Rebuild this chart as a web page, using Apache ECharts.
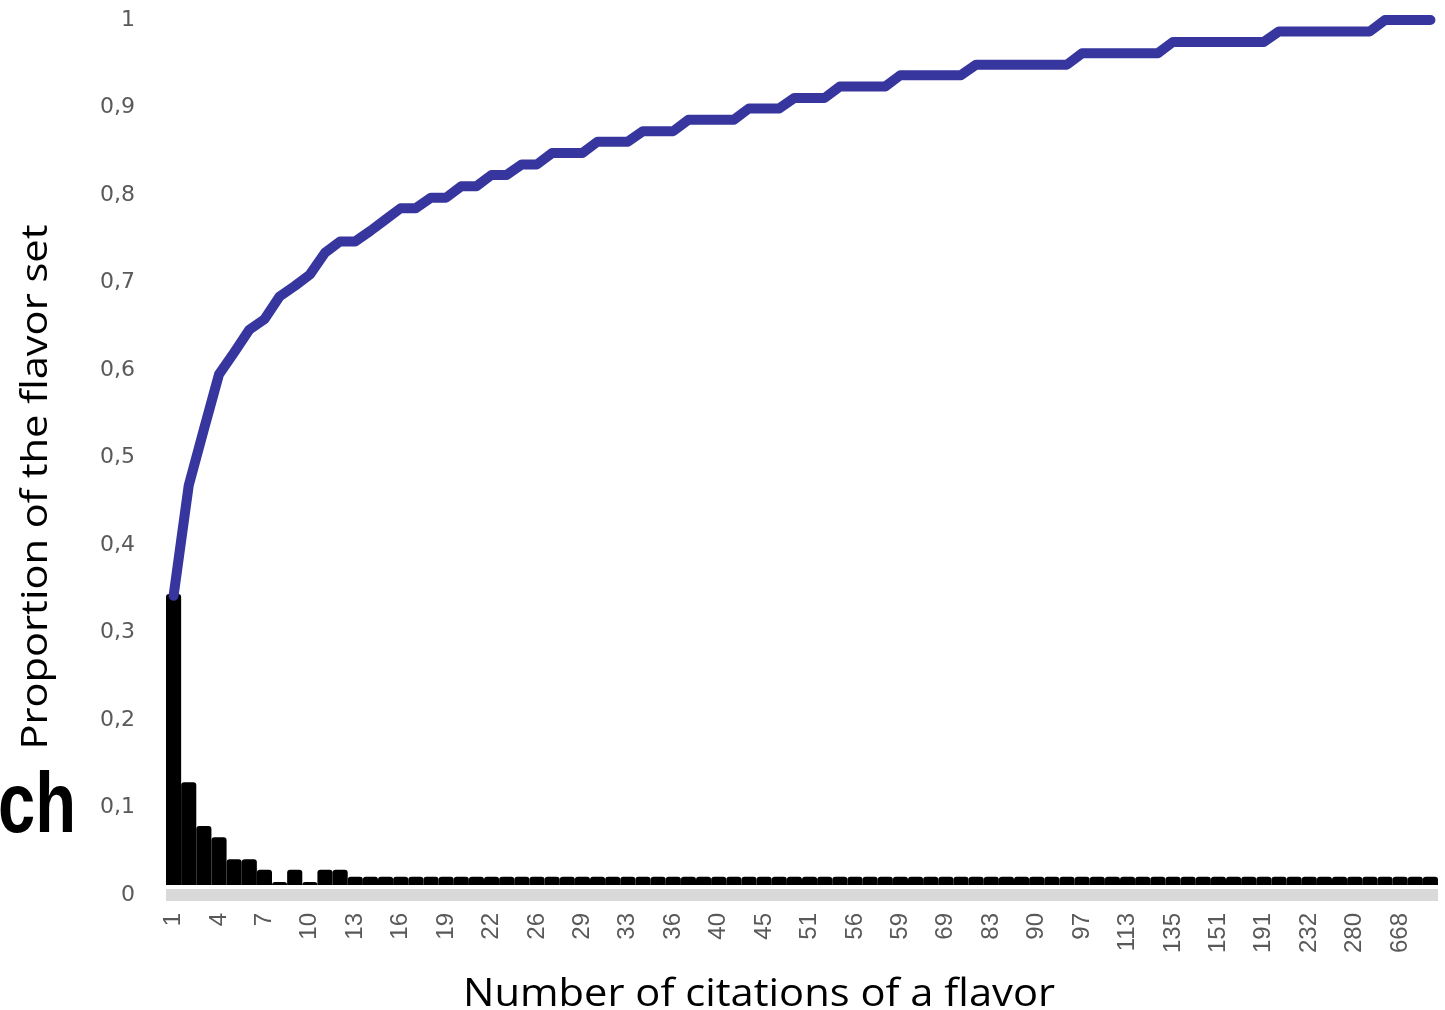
<!DOCTYPE html>
<html>
<head>
<meta charset="utf-8">
<script src="https://cdn.jsdelivr.net/npm/echarts/dist/echarts.min.js"></script>
<style>
html,body{margin:0;padding:0;background:#ffffff;}
#chart{width:1445px;height:1010px;}
</style>
</head>
<body>
<div id="chart"></div>
<script>
// Number of citations of a flavor (category axis)
const categories = [
  '1','2','3','4','5','6','7','8','9','10','11','12','13','14','15','16','17','18','19','20',
  '21','22','24','25','26','27','28','29','30','31','33','34','35','36','37','38','40','42','44','45',
  '47','49','51','53','54','56','57','58','59','62','65','69','74','78','83','85','88','90','93','95',
  '97','102','108','113','120','128','135','140','146','151','162','175','191','204','218','232','247','263','280','315',
  '420','668','740','1024'
];

// Proportion of the flavor set for each citation count (black bars)
const flavorShare = [
  0.344, 0.129, 0.079, 0.066, 0.041, 0.041, 0.029, 0.015, 0.029, 0.015,
  0.029, 0.029, 0.021, 0.021, 0.021, 0.021, 0.021, 0.021, 0.021, 0.021,
  0.021, 0.021, 0.021, 0.021, 0.021, 0.021, 0.021, 0.021, 0.021, 0.021,
  0.021, 0.021, 0.021, 0.021, 0.021, 0.021, 0.021, 0.021, 0.021, 0.021,
  0.021, 0.021, 0.021, 0.021, 0.021, 0.021, 0.021, 0.021, 0.021, 0.021,
  0.021, 0.021, 0.021, 0.021, 0.021, 0.021, 0.021, 0.021, 0.021, 0.021,
  0.021, 0.021, 0.021, 0.021, 0.021, 0.021, 0.021, 0.021, 0.021, 0.021,
  0.021, 0.021, 0.021, 0.021, 0.021, 0.021, 0.021, 0.021, 0.021, 0.021,
  0.021, 0.021, 0.021, 0.021
];

// Cumulative proportion of the flavor set (blue line)
const cumulativeShare = [
  0.342, 0.468, 0.532, 0.595, 0.620, 0.646, 0.658, 0.684, 0.696, 0.709,
  0.734, 0.747, 0.747, 0.759, 0.772, 0.785, 0.785, 0.797, 0.797, 0.810,
  0.810, 0.823, 0.823, 0.835, 0.835, 0.848, 0.848, 0.848, 0.861, 0.861,
  0.861, 0.873, 0.873, 0.873, 0.886, 0.886, 0.886, 0.886, 0.899, 0.899,
  0.899, 0.911, 0.911, 0.911, 0.924, 0.924, 0.924, 0.924, 0.937, 0.937,
  0.937, 0.937, 0.937, 0.949, 0.949, 0.949, 0.949, 0.949, 0.949, 0.949,
  0.962, 0.962, 0.962, 0.962, 0.962, 0.962, 0.975, 0.975, 0.975, 0.975,
  0.975, 0.975, 0.975, 0.987, 0.987, 0.987, 0.987, 0.987, 0.987, 0.987,
  1.000, 1.000, 1.000, 1.000
];

const yAxisMin = 0;
const yAxisMax = 1;
const yAxisStep = 0.1;

const xTitle = 'Number of citations of a flavor';
const yTitle = 'Proportion of the flavor set';
const panelTag = 'ch';

function textWidth(text, font) {
  const ctx = document.createElement('canvas').getContext('2d');
  ctx.font = font;
  return ctx.measureText(text).width;
}

const xTitleFont = '38px "Open Sans"';
const yTitleFont = '36px "Open Sans"';
const tagFont = 'bold 86px "Liberation Sans"';
const xTitleScale = 592 / textWidth(xTitle, xTitleFont);
const yTitleScale = 525 / textWidth(yTitle, yTitleFont);
const tagScale = 78 / textWidth(panelTag, tagFont);

const chart = echarts.init(document.getElementById('chart'), null, { renderer: 'canvas' });

const option = {
  animation: false,
  backgroundColor: '#ffffff',
  grid: { left: 166, right: 7, top: 20, bottom: 115, containLabel: false },
  xAxis: {
    type: 'category',
    data: categories,
    z: 3,
    boundaryGap: true,
    axisLine: {
      show: true,
      lineStyle: { color: '#d9d9d9', width: 12, cap: 'butt', shadowColor: '#ffffff', shadowOffsetY: -4, shadowBlur: 0 }
    },
    axisTick: { show: false },
    splitLine: { show: false },
    axisLabel: {
      interval: 2,
      rotate: 90,
      margin: 18,
      padding: [10, 0, 0, 0],
      color: '#595959',
      fontFamily: 'Liberation Sans',
      fontSize: 24
    }
  },
  yAxis: {
    type: 'value',
    min: yAxisMin,
    max: yAxisMax,
    interval: yAxisStep,
    axisLine: { show: false },
    axisTick: { show: false },
    splitLine: { show: false },
    axisLabel: {
      margin: 31,
      color: '#595959',
      fontFamily: 'DejaVu Sans',
      fontSize: 22,
      formatter: function (v) { return String(Math.round(v * 10) / 10).replace('.', ','); }
    }
  },
  series: [
    {
      type: 'bar',
      data: flavorShare,
      barCategoryGap: '0%',
      barGap: '0%',
      z: 2,
      itemStyle: { color: '#000000', borderColor: '#000000', borderWidth: 6, borderJoin: 'round' }
    },
    {
      type: 'line',
      data: cumulativeShare,
      symbol: 'none',
      showSymbol: false,
      z: 4,
      lineStyle: { color: '#36369e', width: 10, cap: 'round', join: 'round' }
    }
  ],
  graphic: [
    {
      type: 'text',
      x: 759, y: 995,
      scaleX: xTitleScale, scaleY: 1,
      style: { text: xTitle, font: xTitleFont, fill: '#000000', align: 'center', verticalAlign: 'middle', textAlign: 'center', textVerticalAlign: 'middle' }
    },
    {
      type: 'text',
      x: 37, y: 487,
      rotation: Math.PI / 2,
      scaleX: yTitleScale, scaleY: 1,
      style: { text: yTitle, font: yTitleFont, fill: '#000000', align: 'center', verticalAlign: 'middle', textAlign: 'center', textVerticalAlign: 'middle' }
    },
    {
      type: 'text',
      x: -2, y: 808,
      scaleX: tagScale, scaleY: 1,
      style: { text: panelTag, font: tagFont, fill: '#000000', align: 'left', verticalAlign: 'middle', textAlign: 'left', textVerticalAlign: 'middle' }
    }
  ]
};

chart.setOption(option);
</script>
</body>
</html>
